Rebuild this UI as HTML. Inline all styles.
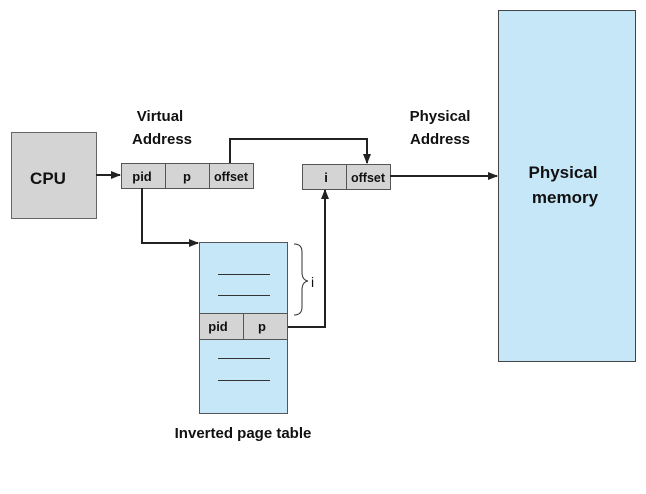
<!DOCTYPE html>
<html><head><meta charset="utf-8"><style>
html,body{margin:0;padding:0;background:#fff;}
svg{display:block;}
text{font-family:"Liberation Sans",sans-serif;font-weight:bold;fill:#111;}
</style></head><body>
<svg width="646" height="494" viewBox="0 0 646 494" xmlns="http://www.w3.org/2000/svg">
<defs><marker id="a" markerWidth="10" markerHeight="8" refX="9" refY="4" orient="auto" markerUnits="userSpaceOnUse"><path d="M0,0 L10,4 L0,8 Z" fill="#222"/></marker></defs>
<!-- CPU -->
<rect x="11.5" y="132.5" width="85" height="86" fill="#d4d4d4" stroke="#666"/>
<text x="48" y="184" font-size="17" text-anchor="middle">CPU</text>
<!-- virtual address -->
<text x="160" y="121" font-size="15" text-anchor="middle">Virtual</text>
<text x="162" y="144" font-size="15" text-anchor="middle">Address</text>
<rect x="121.5" y="163.5" width="132" height="25" fill="#d4d4d4" stroke="#555"/>
<line x1="165.5" y1="163" x2="165.5" y2="189" stroke="#555"/>
<line x1="209.5" y1="163" x2="209.5" y2="189" stroke="#555"/>
<text x="142" y="181" font-size="13" text-anchor="middle">pid</text>
<text x="187" y="181" font-size="13" text-anchor="middle">p</text>
<text x="231" y="181" font-size="12.5" text-anchor="middle">offset</text>
<!-- physical address -->
<text x="440" y="121" font-size="15" text-anchor="middle">Physical</text>
<text x="440" y="144" font-size="15" text-anchor="middle">Address</text>
<rect x="302.5" y="164.5" width="88" height="25" fill="#d4d4d4" stroke="#555"/>
<line x1="346.5" y1="164" x2="346.5" y2="190" stroke="#555"/>
<text x="326" y="182" font-size="13" text-anchor="middle">i</text>
<text x="368" y="182" font-size="12.5" text-anchor="middle">offset</text>
<!-- memory -->
<rect x="498.5" y="10.5" width="137" height="351" fill="#c6e7f8" stroke="#444"/>
<text x="563" y="178" font-size="17" text-anchor="middle">Physical</text>
<text x="565" y="203" font-size="17" text-anchor="middle">memory</text>
<!-- table -->
<rect x="199.5" y="242.5" width="88" height="171" fill="#c6e7f8" stroke="#555"/>
<rect x="199.5" y="313.5" width="88" height="26" fill="#d4d4d4" stroke="#555"/>
<line x1="243.5" y1="313" x2="243.5" y2="340" stroke="#555"/>
<text x="218" y="331" font-size="13" text-anchor="middle">pid</text>
<text x="262" y="331" font-size="13" text-anchor="middle">p</text>
<g stroke="#333" stroke-width="1">
<line x1="218" y1="274.5" x2="270" y2="274.5"/>
<line x1="218" y1="295.5" x2="270" y2="295.5"/>
<line x1="218" y1="358.5" x2="270" y2="358.5"/>
<line x1="218" y1="380.5" x2="270" y2="380.5"/>
</g>
<text x="243" y="438" font-size="15" text-anchor="middle">Inverted page table</text>
<!-- brace -->
<path d="M294,244 Q302,244 302,252 L302,272 Q302,280 308,281 Q302,282 302,290 L302,307 Q302,315 294,315" fill="none" stroke="#333" stroke-width="1"/>
<text x="311" y="287" font-size="14" font-weight="normal" style="font-weight:normal">i</text>
<!-- connectors -->
<g stroke="#222" stroke-width="2" fill="none">
<line x1="96" y1="175" x2="120" y2="175" marker-end="url(#a)"/>
<polyline points="230,163 230,139 367,139 367,163" marker-end="url(#a)"/>
<polyline points="142,188 142,243 198,243" marker-end="url(#a)"/>
<polyline points="288,327 325,327 325,190" marker-end="url(#a)"/>
<line x1="390" y1="176" x2="497" y2="176" marker-end="url(#a)"/>
</g>
</svg>
</body></html>
